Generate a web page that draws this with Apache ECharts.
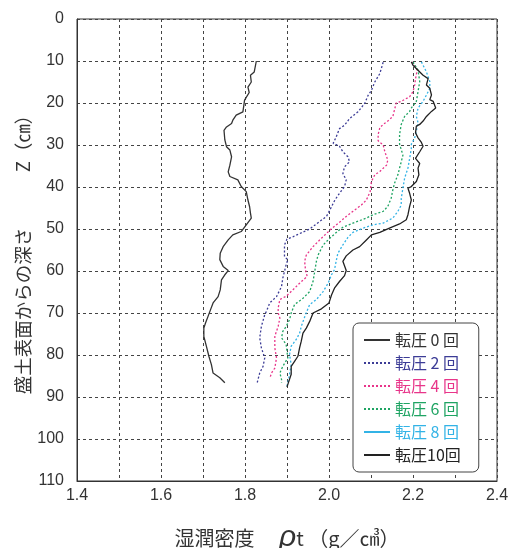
<!DOCTYPE html>
<html>
<head>
<meta charset="utf-8">
<script src="https://cdn.jsdelivr.net/npm/echarts@6/dist/echarts.min.js"></script>
<style>
  html, body { margin: 0; padding: 0; background: #fff; }
  #main { width: 516px; height: 548px; }
</style>
</head>
<body>
<div id="main"></div>
<script>
// [湿潤密度 ρt, 深さ Z]
const pass0 = [[1.827,10],[1.822,12.6],[1.813,13.4],[1.815,15],[1.807,16.2],[1.81,17.5],[1.799,19.3],[1.795,22.1],[1.779,22.9],[1.771,24.1],[1.768,24.9],[1.756,25.7],[1.75,26.5],[1.752,28.8],[1.756,30.4],[1.764,31.2],[1.768,32.8],[1.764,34.8],[1.76,36.4],[1.764,37.5],[1.783,38.3],[1.791,39.9],[1.803,41.1],[1.807,43.1],[1.811,44.7],[1.813,46.2],[1.815,47.4],[1.803,49],[1.791,50.6],[1.771,51.4],[1.76,52.6],[1.748,54.2],[1.741,55.8],[1.74,57.3],[1.748,58.9],[1.76,59.9],[1.752,60.9],[1.744,62.1],[1.741,64.5],[1.736,66.1],[1.724,67.6],[1.718,69.2],[1.712,70.8],[1.706,72.4],[1.702,73.6],[1.702,75.6],[1.708,77.9],[1.714,80.3],[1.72,82.3],[1.724,84.3],[1.74,85.4],[1.752,86.6]];
const pass2 = [[2.129,10.3],[2.121,13],[2.109,15],[2.101,17],[2.093,18.2],[2.085,20.1],[2.069,22.1],[2.049,23.7],[2.037,25.3],[2.025,26.1],[2.017,28.1],[2.01,29.6],[2.025,30.3],[2.033,31.6],[2.045,32.8],[2.049,34],[2.037,35.2],[2.033,36.8],[2.041,38.3],[2.037,39.9],[2.025,41.5],[2.014,43.1],[2.002,45.5],[1.994,47],[1.978,48.2],[1.954,50],[1.915,51.8],[1.9,52.4],[1.894,53.8],[1.894,56.6],[1.902,57.3],[1.898,58.5],[1.894,60.1],[1.89,61.7],[1.887,63.7],[1.875,66.1],[1.859,67.6],[1.851,69.6],[1.847,70.4],[1.839,73.2],[1.835,75.9],[1.839,78.3],[1.847,80.7],[1.843,82.7],[1.835,84.3],[1.829,86.6]];
const pass4 = [[2.198,10.2],[2.21,12.2],[2.206,14.2],[2.204,15.7],[2.2,17.3],[2.192,18.5],[2.172,19.6],[2.16,20],[2.156,21.6],[2.152,23.2],[2.14,24.3],[2.129,25.1],[2.121,25.9],[2.117,27.5],[2.117,29],[2.129,30],[2.133,31.6],[2.14,33.6],[2.137,34.8],[2.121,36.3],[2.109,37.1],[2.101,38.7],[2.098,41.1],[2.089,43.1],[2.077,44.3],[2.057,45.8],[2.041,47],[2.025,48.4],[2.005,50],[1.982,52.2],[1.962,54.2],[1.946,56.2],[1.942,57.7],[1.944,59.7],[1.948,61.3],[1.93,62.9],[1.914,64.5],[1.898,66],[1.883,66.8],[1.879,68.8],[1.879,70],[1.883,71.2],[1.879,73.2],[1.871,75.5],[1.871,78.3],[1.875,80.7],[1.871,83.1],[1.863,84.3],[1.859,85.6]];
const pass6 = [[2.2,10.2],[2.212,12.2],[2.216,14.9],[2.212,17.3],[2.208,19.6],[2.196,21.2],[2.192,22],[2.18,23.2],[2.172,25.1],[2.168,27.5],[2.168,29.8],[2.176,32.4],[2.172,34],[2.168,35.5],[2.164,37.1],[2.156,39.1],[2.152,40.7],[2.148,42.7],[2.14,44.6],[2.129,45.8],[2.105,46.6],[2.089,47.4],[2.057,48.6],[2.033,49.6],[2.02,50.6],[2.002,52.2],[1.986,53.8],[1.974,56.2],[1.97,57.7],[1.966,60.1],[1.962,62.5],[1.954,64.9],[1.938,66.5],[1.918,68],[1.91,70],[1.906,71.6],[1.898,73.2],[1.89,74.4],[1.887,75.9],[1.898,77.5],[1.902,80.7],[1.89,82.7],[1.883,84.3],[1.887,85.8],[1.887,86.6]];
const pass8 = [[2.22,10.2],[2.232,12.6],[2.24,14.9],[2.24,16.5],[2.232,18.1],[2.224,19.6],[2.212,21.2],[2.208,23.2],[2.212,24.7],[2.208,26.7],[2.204,28.3],[2.196,29.8],[2.196,30.8],[2.192,33.2],[2.188,35.5],[2.18,37.9],[2.176,40.3],[2.172,42.7],[2.172,44.3],[2.164,45.8],[2.152,47.4],[2.129,48.6],[2.105,49],[2.081,49.8],[2.057,50.8],[2.045,52],[2.033,53.8],[2.021,55.8],[2.017,57.7],[2.013,59.7],[2.006,60.9],[1.998,62.9],[1.986,64.9],[1.97,66.8],[1.954,68],[1.944,70.4],[1.934,73.2],[1.93,74.8],[1.922,76.3],[1.91,77.9],[1.906,79.9],[1.91,82.3],[1.906,84.6],[1.902,86.6],[1.9,87.4]];
const pass10 = [[2.196,10.2],[2.2,11],[2.212,12.2],[2.224,13.4],[2.236,14.2],[2.232,15.7],[2.24,16.5],[2.244,18.1],[2.24,19.2],[2.248,19.6],[2.254,21.2],[2.244,22],[2.232,23.2],[2.224,24.3],[2.216,25.1],[2.208,25.5],[2.206,27.1],[2.212,28.3],[2.22,29.4],[2.224,30.3],[2.216,31.6],[2.206,33.2],[2.216,34.4],[2.212,35.5],[2.214,37.1],[2.208,38.7],[2.196,39.9],[2.188,40.3],[2.192,41.5],[2.196,43.1],[2.192,44.6],[2.188,46.6],[2.184,47.8],[2.168,48.8],[2.144,49.8],[2.121,50.8],[2.101,51.4],[2.089,52.6],[2.073,54.2],[2.057,55],[2.041,56.4],[2.033,57.7],[2.041,59.9],[2.037,61.1],[2.025,62.5],[2.013,64.1],[2.006,65.7],[2,67.6],[1.982,69],[1.962,70],[1.954,72],[1.946,73.6],[1.938,74.8],[1.934,76.7],[1.93,78.3],[1.926,80.3],[1.918,81.5],[1.91,82.7],[1.91,84.6],[1.906,85.8],[1.902,87],[1.9,87.6]];

const seriesNames = ['転圧 0 回', '転圧 2 回', '転圧 4 回', '転圧 6 回', '転圧 8 回', '転圧10回'];
const seriesData = [pass0, pass2, pass4, pass6, pass8, pass10];
const colors = ['#333333', '#3c3c96', '#e8358a', '#1fa463', '#33b3e6', '#222222'];
const lineTypes = ['solid', [2, 2], [2, 2], [2, 2], [2, 2], 'solid'];

const fontLatin = '"Liberation Sans", Arial, "Noto Sans CJK JP", sans-serif';
const fontJp = '"Noto Sans CJK JP", sans-serif';

const myChart = echarts.init(document.getElementById('main'));

const option = {
    backgroundColor: '#fff',
    animation: false,
    grid: {
        left: 77,
        right: 19,
        top: 19,
        bottom: 67,
        containLabel: false,
        outerBoundsMode: 'none',
        show: true,
        borderColor: '#333',
        borderWidth: 1
    },
    legend: {
        orient: 'vertical',
        left: 353,
        top: 323,
        padding: [9, 18, 9, 10],
        itemGap: 7,
        itemWidth: 26,
        itemHeight: 14,
        borderColor: '#444',
        borderWidth: 1,
        borderRadius: 6,
        backgroundColor: '#fff',
        selectedMode: false,
        itemStyle: { opacity: 0 },
        textStyle: { fontFamily: fontJp, fontSize: 16 },
        data: seriesNames.map((n, i) => ({
            name: n,
            textStyle: { color: colors[i] },
            lineStyle: i === 4 ? { type: 'solid', width: 2 } : undefined
        }))
    },
    xAxis: {
        type: 'value',
        min: 1.4,
        max: 2.4,
        interval: 0.1,
        axisLine: { onZero: false, lineStyle: { color: '#333' } },
        axisTick: { show: false },
        axisLabel: {
            margin: 7,
            color: '#333',
            fontSize: 16,
            fontFamily: fontLatin,
            formatter: v => (Math.round(v * 10) % 2 === 0 ? v.toFixed(1) : '')
        },
        splitLine: { lineStyle: { type: [3, 3], color: '#444', width: 1 } },
        name: '湿潤密度　 {rho|ρ}t （g／㎤）',
        nameLocation: 'middle',
        nameGap: 42,
        nameMoveOverlap: false,
        nameTextStyle: {
            color: '#333',
            fontSize: 20,
            fontFamily: fontJp,
            rich: {
                rho: { fontSize: 30, fontStyle: 'italic', fontFamily: fontLatin, color: '#333' }
            }
        }
    },
    yAxis: {
        type: 'value',
        inverse: true,
        min: 0,
        max: 110,
        interval: 10,
        axisLine: { onZero: false, lineStyle: { color: '#333' } },
        axisTick: { show: false },
        axisLabel: { margin: 13, color: '#333', fontSize: 16, fontFamily: fontLatin },
        splitLine: { lineStyle: { type: [3, 3], color: '#444', width: 1 } },
        name: '盛土表面からの深さ　　　Z（㎝）',
        nameLocation: 'middle',
        nameRotate: 90,
        nameGap: 45,
        nameMoveOverlap: false,
        nameTextStyle: { color: '#333', fontSize: 18.5, fontFamily: fontJp }
    },
    series: seriesData.map((d, i) => ({
        name: seriesNames[i],
        type: 'line',
        data: d,
        symbol: 'none',
        smooth: false,
        itemStyle: { color: colors[i] },
        lineStyle: { color: colors[i], width: 1.3, type: lineTypes[i] },
        z: i === 5 ? 5 : 3
    }))
};

myChart.setOption(option);
window.addEventListener('resize', function () {
    myChart.resize();
});
</script>
</body>
</html>
